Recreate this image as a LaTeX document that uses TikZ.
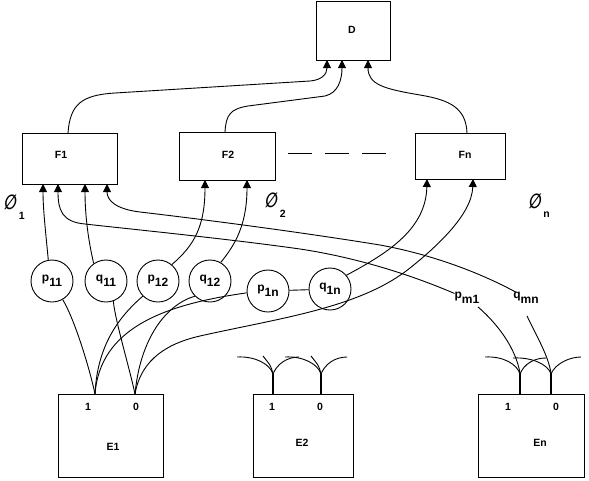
\documentclass[tikz,border=0pt]{standalone}
\usepackage{fontspec}
\setmainfont{Liberation Sans}
\newfontfamily\phifont[FakeSlant=0.25]{DejaVu Sans}
\usetikzlibrary{arrows.meta,calc}
\tikzset{
  box/.style={draw, line width=1pt, inner sep=0pt},
  lbl/.style={inner sep=0pt, font=\fontsize{10.5}{12}\selectfont\bfseries},
  cir/.style={draw, circle, line width=0.9pt, minimum size=42pt, inner sep=0pt, fill=white, font=\fontsize{12}{13}\selectfont\bfseries},
  con/.style={line width=0.9pt},
  arr/.style={con, -{Triangle[length=8pt,width=8pt]}},
  stem/.style={line width=2pt},
  phil/.style={inner sep=0pt, font=\fontsize{10.5}{12}\selectfont\bfseries}
}
\newcommand{\sbs}[2]{#1\raisebox{-5pt}{#2}}
\newcommand{\phisym}{\scalebox{0.85}[1.2]{\phifont\fontsize{17}{17}\selectfont ∅}}
\begin{document}
\begin{tikzpicture}[x=1pt,y=-1pt]
\useasboundingbox (0,0) rectangle (589,480);
% boxes
\node[box, minimum width=74pt, minimum height=59pt] (D) at (353,30.5) {};
\node[lbl] (Dt) at (352,30) {D};
\node[box, minimum width=95pt, minimum height=51pt] (F1) at (69.5,158.5) {};
\node[lbl] (F1t) at (61,155) {F1};
\node[box, minimum width=96pt, minimum height=48pt] (F2) at (227,156) {};
\node[lbl] (F2t) at (228,155) {F2};
\node[box, minimum width=90pt, minimum height=46pt] (Fn) at (460,156) {};
\node[lbl] (Fnt) at (465,155) {Fn};
\node[box, minimum width=105pt, minimum height=83pt] (E1) at (110.5,435.5) {};
\node[box, minimum width=100pt, minimum height=83pt] (E2) at (303,435.5) {};
\node[box, minimum width=106pt, minimum height=83pt] (En) at (531,435.5) {};
\node[lbl] (E1t) at (113,447) {E1};
\node[lbl] (E2t) at (302,443) {E2};
\node[lbl] (Ent) at (540,443) {En};
\node[lbl] (e1al) at (88,407) {1};
\node[lbl] (e1bl) at (136,407) {0};
\node[lbl] (e2al) at (272,407) {1};
\node[lbl] (e2bl) at (320,407) {0};
\node[lbl] (enal) at (508,407) {1};
\node[lbl] (enbl) at (556,407) {0};
% phi labels
\node[phil] (phi1) at (14,207) {\phisym\kern3pt\raisebox{-10pt}{1}};
\node[phil] (phi2) at (275,205) {\phisym\kern3pt\raisebox{-10pt}{2}};
\node[phil] (phin) at (539,206) {\phisym\kern3pt\raisebox{-9pt}{n}};
% dashed
\draw[con, dash pattern=on 24pt off 13pt] (288,153) -- (390,153);
% ports and targets
\coordinate (e1a) at (95,394);
\coordinate (e1b) at (135,394);
\coordinate (e2a) at (273,394);
\coordinate (e2b) at (321,394);
\coordinate (ena) at (520,394);
\coordinate (enb) at (551,394);
\coordinate (da) at (327,60);
\coordinate (db) at (342,60);
\coordinate (dc) at (368,60);
\coordinate (f1a) at (43,184);
\coordinate (f1b) at (58,184);
\coordinate (f1c) at (85,184);
\coordinate (f1d) at (107,184);
\coordinate (f2a) at (205,180);
\coordinate (f2b) at (247,180);
\coordinate (fna) at (427,179);
\coordinate (fnb) at (473,179);
\coordinate (f1top) at (68,133);
\coordinate (f2top) at (225,132);
\coordinate (fntop) at (467,133);
% circles
\node[cir] (p11) at (52,281) {\sbs{p}{11}};
\node[cir] (q11) at (106,281) {\sbs{q}{11}};
\node[cir] (p12) at (158,281) {\sbs{p}{12}};
\node[cir] (q12) at (210,281) {\sbs{q}{12}};
\node[cir] (p1n) at (268,291) {\sbs{p}{1n}};
\node[cir] (q1n) at (330,289) {\sbs{q}{1n}};
\node[lbl, font=\fontsize{12}{13}\selectfont\bfseries] (pm1) at (467,298) {\sbs{p}{m1}};
\node[lbl, font=\fontsize{12}{13}\selectfont\bfseries] (qmn) at (526,298) {\sbs{q}{mn}};
% to D
\draw[arr] (f1top) .. controls (70,104) and (82,95) .. (115,93) -- (310,81) .. controls (322,80) and (327,74) .. (da);
\draw[arr] (f2top) .. controls (226,115) and (230,109) .. (248,106) -- (325,96) .. controls (338,93) and (342,80) .. (db);
\draw[arr] (fntop) .. controls (466,108) and (450,100) .. (420,95) .. controls (385,89) and (368,85) .. (dc);
% circles to F
\draw[arr] (p11.100) .. controls (46,235) and (43,210) .. (f1a);
\draw[arr] (q11.125) .. controls (87,235) and (85,210) .. (f1c);
\draw[arr] (p12.50) .. controls (195,245) and (205,225) .. (f2a);
\draw[arr] (q12.60) .. controls (235,245) and (247,225) .. (f2b);
\draw[arr] (q1n.40) .. controls (390,252) and (426,228) .. (fna);
\draw[con] (p1n) -- (q1n);
% circles to E1
\draw[con] (p11.-60) .. controls (75,320) and (90,370) .. (e1a);
\draw[con] (q11.-70) .. controls (115,320) and (130,370) .. (e1b);
\draw[con] (p12.225) .. controls (115,320) and (97,350) .. (e1a);
\draw[con] (q12.225) .. controls (165,305) and (140,340) .. (e1b);
\draw[con] (p1n.185) .. controls (160,305) and (100,330) .. (e1a);
\draw[arr] (e1b) .. controls (140,365) and (160,345) .. (200,336) .. controls (280,318) and (360,308) .. (410,268) .. controls (435,248) and (472,215) .. (fnb);
% long lines to F1
\draw[arr] (pm1.160) .. controls (395,268) and (340,255) .. (300,249) .. controls (230,239) and (120,228) .. (85,224) .. controls (62,222) and (58,210) .. (f1b);
\draw[arr] (qmn.150) .. controls (488,277) and (440,256) .. (380,245) .. controls (300,232) and (200,219) .. (140,212) .. controls (115,209) and (107,200) .. (f1d);
% labels to En
\draw[con] ($(pm1.south)+(11,3)$) .. controls (500,326) and (516,350) .. ($(ena)+(0,-21)$) -- (ena);
\draw[con] ($(qmn.south)+(1,12)$) .. controls (537,337) and (548,355) .. ($(enb)+(0,-21)$) -- (enb);
% stems and fans E2
\foreach \p in {e2a,e2b}{
  \draw[stem] (\p) -- ++(0,-20);
  \draw[con] ($(\p)+(0,-20)$) .. controls +(-3,-10) and +(18,-1) .. ++(-36,-17);
  \draw[con] ($(\p)+(0,-20)$) .. controls +(-2,-8) .. ++(-10,-18);
  \draw[con] ($(\p)+(0,-20)$) .. controls +(4,-10) and +(-12,0) .. ++(26,-17);
}
% stems and fans En
\draw[stem] (ena) -- ++(0,-21);
\draw[stem] (enb) -- ++(0,-21);
\draw[con] ($(ena)+(0,-20)$) .. controls +(-3,-10) and +(18,-1) .. ++(-35,-17);
\draw[con] ($(ena)+(0,-20)$) .. controls +(4,-10) and +(-12,0) .. ++(26,-16);
\draw[con] ($(enb)+(0,-20)$) .. controls +(-3,-10) and +(18,-1) .. ++(-38,-16);
\draw[con] ($(enb)+(0,-20)$) .. controls +(4,-10) and +(-12,0) .. ++(30,-17);
\end{tikzpicture}
\end{document}
